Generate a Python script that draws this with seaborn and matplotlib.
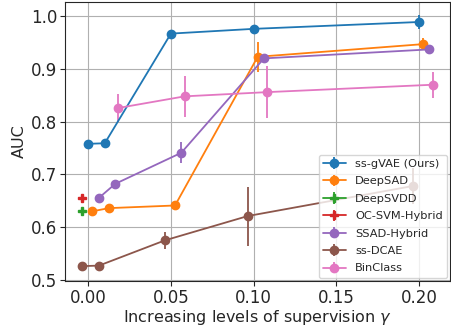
import matplotlib
matplotlib.use("Agg")
import matplotlib.pyplot as plt
import seaborn as sns

sns.set_style("ticks")
plt.rcParams['font.family'] = ['DejaVu Sans']

labels = ['ss-gVAE (Ours)', 'DeepSAD', 'DeepSVDD', 'OC-SVM-Hybrid',
          'SSAD-Hybrid', 'ss-DCAE', 'BinClass']
markers = ['o', 'o', 'P', 'P', 'o', 'o', 'o']

# x positions (supervision level, slightly dodged per method)
x_gvae = [0.0, 0.01, 0.05, 0.10, 0.20]
x_deepsad = [0.0025, 0.0125, 0.0525, 0.1025, 0.2025]
x_deepsvdd = [-0.0035]
x_ocsvm = [-0.0035]
x_ssad = [0.0063, 0.0163, 0.0563, 0.1063, 0.2063]
x_dcae = [-0.0035, 0.0065, 0.0465, 0.0965, 0.1965]
x_bin = [0.0183, 0.0583, 0.1083, 0.2083]

# mean AUC
y_gvae = [0.758, 0.759, 0.967, 0.976, 0.989]
y_deepsad = [0.630, 0.636, 0.641, 0.923, 0.947]
y_deepsvdd = [0.630]
y_ocsvm = [0.655]
y_ssad = [0.655, 0.682, 0.741, 0.920, 0.937]
y_dcae = [0.526, 0.527, 0.575, 0.621, 0.678]
y_bin = [0.826, 0.848, 0.856, 0.870]

# std of AUC
e_gvae = [0.004, 0.004, 0.003, 0.003, 0.014]
e_deepsad = [0.004, 0.004, 0.004, 0.029, 0.011]
e_deepsvdd = [0.003]
e_ocsvm = [0.003]
e_ssad = [0.004, 0.005, 0.020, 0.004, 0.004]
e_dcae = [0.003, 0.003, 0.016, 0.056, 0.035]
e_bin = [0.026, 0.039, 0.050, 0.025]

series = [
    (x_gvae, y_gvae, e_gvae),
    (x_deepsad, y_deepsad, e_deepsad),
    (x_deepsvdd, y_deepsvdd, e_deepsvdd),
    (x_ocsvm, y_ocsvm, e_ocsvm),
    (x_ssad, y_ssad, e_ssad),
    (x_dcae, y_dcae, e_dcae),
    (x_bin, y_bin, e_bin),
]

colors = sns.color_palette("tab10", 7)

fig = plt.figure(figsize=(4.51, 3.27), dpi=100)
ax = fig.add_subplot(111)
fig.subplots_adjust(left=0.144, right=0.998, top=0.994, bottom=0.141)

for (xs, ys, es), lab, c, m in zip(series, labels, colors, markers):
    ax.errorbar(xs, ys, yerr=es, fmt='-', marker=m, color=c, label=lab,
                markersize=6, linewidth=1.3, elinewidth=1.3)

ax.grid(True, color='#b0b0b0', linewidth=0.8)
ax.set_ylim(0.498, 1.027)
ax.set_xticks([0.0, 0.05, 0.10, 0.15, 0.20])
ax.set_yticks([0.5, 0.6, 0.7, 0.8, 0.9, 1.0])
ax.tick_params(labelsize=12, pad=2)
ax.set_xlabel('Increasing levels of supervision $\\gamma$', fontsize=11.5, labelpad=1)
ax.set_ylabel('AUC', fontsize=11.5, labelpad=3)
ax.legend(loc='lower right', fontsize=8.2, borderaxespad=0.25, labelspacing=0.65)

fig.savefig('out.png', dpi=100)
